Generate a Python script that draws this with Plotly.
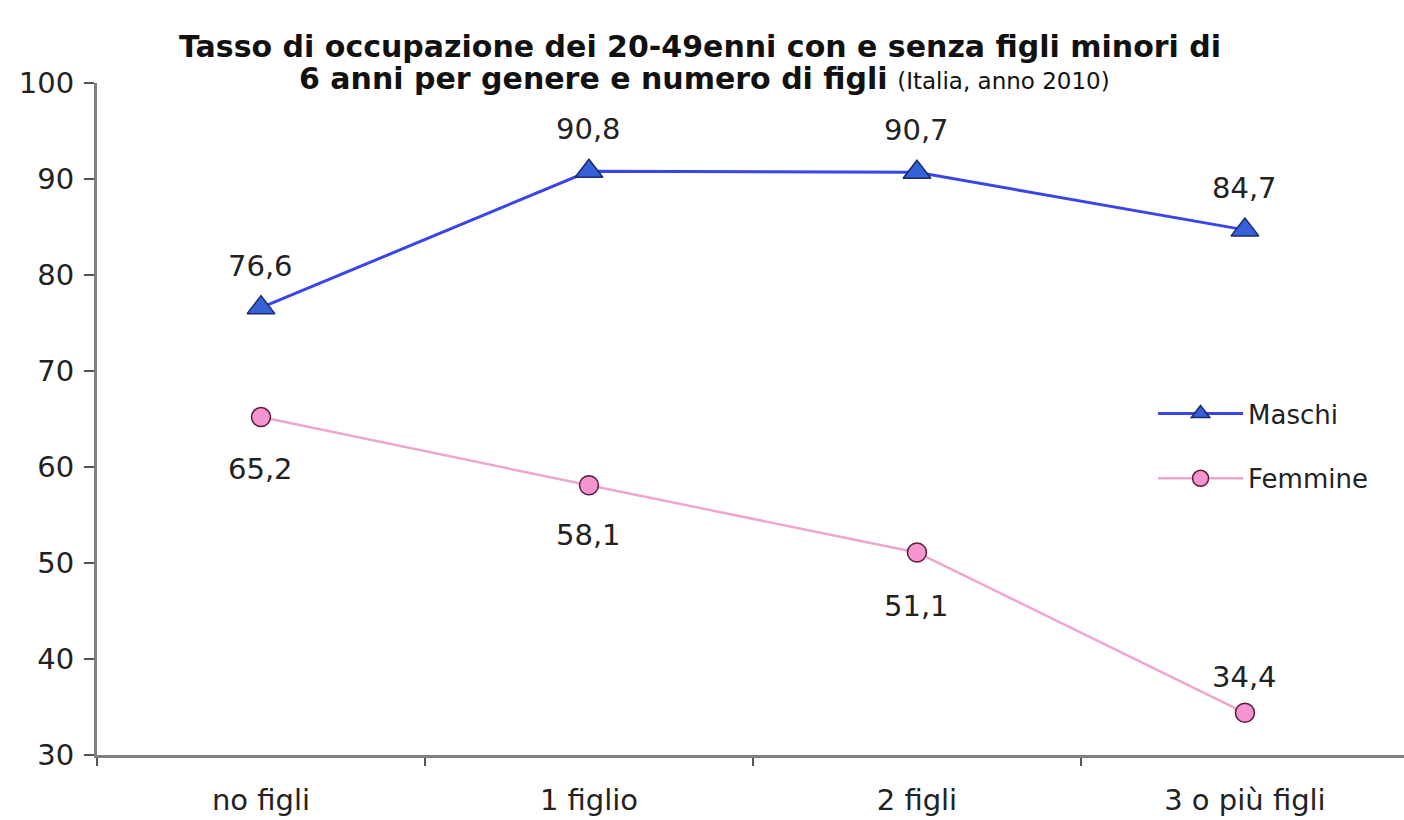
import plotly.graph_objects as go

categories = ["no figli", "1 figlio", "2 figli", "3 o più figli"]
maschi = [76.6, 90.8, 90.7, 84.7]
femmine = [65.2, 58.1, 51.1, 34.4]
y_ticks = [30, 40, 50, 60, 70, 80, 90, 100]
title_line1 = "Tasso di occupazione dei 20-49enni con e senza figli minori di"
title_line2 = "6 anni per genere e numero di figli"
title_note = "(Italia, anno 2010)"

FONT = "DejaVu Sans, Verdana, sans-serif"
TXT = "#222222"

def fmt(v):
    return f"{v:.1f}".replace(".", ",")

fig = go.Figure()
fig.add_trace(go.Scatter(
    x=categories, y=maschi, name="Maschi", mode="lines+markers", legendgroup="m",
    line=dict(color="#3A45E8", width=3),
    marker=dict(symbol="triangle-up", size=24, color="#3560D6",
                line=dict(color="#1A2A6A", width=1.5)),
))
fig.add_trace(go.Scatter(
    x=categories, y=femmine, name="Femmine", mode="lines+markers", legendgroup="f",
    line=dict(color="#EDA6D0", width=2.5),
    marker=dict(symbol="circle", size=19, color="#F495CF",
                line=dict(color="#5A1A3A", width=1.5)),
))

annotations = []
for c, v in zip(categories, maschi):
    annotations.append(dict(x=c, y=v, xref="x", yref="y", text=fmt(v),
                            showarrow=False, yshift=42,
                            font=dict(family=FONT, size=29, color=TXT)))
fem_shift = [-52, -50, -54, 36]
for c, v, s in zip(categories, femmine, fem_shift):
    annotations.append(dict(x=c, y=v, xref="x", yref="y", text=fmt(v),
                            showarrow=False, yshift=s,
                            font=dict(family=FONT, size=29, color=TXT)))

annotations.append(dict(x=0.4615, y=1.0536, xref="paper", yref="paper",
                        xanchor="center", yanchor="middle", showarrow=False,
                        text=f"<b>{title_line1}</b>",
                        font=dict(family=FONT, size=30, color="#111111")))
annotations.append(dict(x=0.465, y=1.007, xref="paper", yref="paper",
                        xanchor="center", yanchor="middle", showarrow=False,
                        text=f"<b>{title_line2}</b> <span style='font-size:23px'>{title_note}</span>",
                        font=dict(family=FONT, size=30, color="#111111")))

fig.update_layout(
    width=1404, height=820,
    paper_bgcolor="white", plot_bgcolor="white",
    margin=dict(l=97, r=0, t=83, b=65, autoexpand=False),
    font=dict(family=FONT, size=28, color=TXT),
    showlegend=True,
    legend=dict(x=0.808, y=0.543, xanchor="left", yanchor="top",
                bgcolor="rgba(0,0,0,0)", font=dict(family=FONT, size=26, color=TXT),
                tracegroupgap=28, itemwidth=85),
    annotations=annotations,
)
fig.update_xaxes(
    type="category", range=[-0.5, 3.485],
    showline=True, linecolor="#7F7F7F", linewidth=3,
    ticks="outside", tickson="boundaries", ticklen=8, tickwidth=2, tickcolor="#555555",
    showgrid=False, zeroline=False, ticklabelstandoff=17,
    tickfont=dict(family=FONT, size=29, color=TXT),
)
fig.update_yaxes(
    range=[30, 100], tickvals=y_ticks,
    showline=True, linecolor="#7F7F7F", linewidth=3,
    ticks="outside", ticklen=10, tickwidth=2, tickcolor="#555555",
    showgrid=False, zeroline=False, ticklabelstandoff=4,
    tickfont=dict(family=FONT, size=29, color=TXT),
)

fig.write_html("out.html", config={"displayModeBar": False},
               post_script="document.body.style.margin='0';document.body.style.overflow='hidden';")
